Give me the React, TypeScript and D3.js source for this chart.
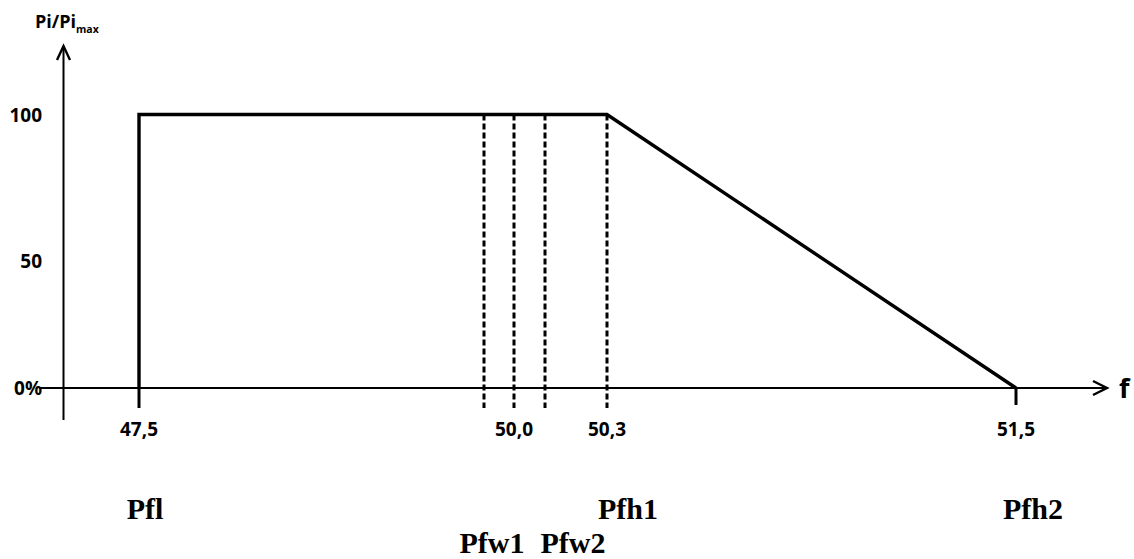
import React from "react";
import * as d3 from "d3";

// ---- data ----
const freqBreaks = [47.5, 50.0, 50.3, 51.5];
const freqTickLabels = ["47,5", "50,0", "50,3", "51,5"];
const powerTicks = [0, 50, 100];
const powerTickLabels = ["0%", "50", "100"];
const curveF = [47.5, 47.5, 50.3, 51.5];
const curveP = [0, 100, 100, 0];
const dashedF = [49.8, 50.0, 50.1, 50.3];
const pointNames = ["Pfl", "Pfw1", "Pfw2", "Pfh1", "Pfh2"];
const pointF = [47.5, 49.8, 50.1, 50.3, 51.5];

const W = 1134;
const H = 559;

export default function App() {
  // schematic (piecewise) scales
  const x = d3.scaleLinear().domain(freqBreaks).range([139, 514, 607, 1016]);
  const y = d3.scaleLinear().domain(powerTicks).range([388, 261, 114.5]);

  const axisY = y(0);
  const line = d3
    .line<number>()
    .x((_, i) => x(curveF[i]))
    .y((_, i) => y(curveP[i]));
  const curvePath = line(curveF) || "";

  const tickFont = "'Open Sans', Lato, sans-serif";
  const serif = "'Liberation Serif', 'Times New Roman', serif";

  // label placement tweaks (row & horizontal nudge)
  const nameRow = [0, 1, 1, 0, 0];
  const nameDx = [6, 8, 28, 21, 17];

  return (
    <svg
      width={W}
      height={H}
      viewBox={`0 0 ${W} ${H}`}
      style={{ position: "absolute", left: 0, top: 0, background: "#fff" }}
    >
      {/* y axis */}
      <line x1={63.5} x2={63.5} y1={420} y2={46} stroke="#000" strokeWidth={2} />
      <polyline
        points={`57,60 63.5,46 70,60`}
        fill="none"
        stroke="#000"
        strokeWidth={2.4}
        strokeLinejoin="miter"
      />
      {/* x axis */}
      <line x1={40} x2={1106} y1={axisY} y2={axisY} stroke="#000" strokeWidth={2} />
      <polyline
        points={`1093,${axisY - 7} 1107,${axisY} 1093,${axisY + 7}`}
        fill="none"
        stroke="#000"
        strokeWidth={2.4}
      />
      <text x={1119} y={axisY + 10} fontFamily={tickFont} fontWeight="bold" fontSize={27}>
        f
      </text>

      {/* y label */}
      <text x={35} y={28} fontFamily={tickFont} fontWeight="bold" fontSize={18}>
        Pi/Pi
        <tspan fontSize={10.5} dy={5}>
          max
        </tspan>
      </text>

      {/* y tick labels */}
      {powerTicks.map((v, i) => (
        <text
          key={"yt" + i}
          x={42}
          y={y(v)}
          textAnchor="end"
          dominantBaseline="central"
          fontFamily={tickFont}
          fontWeight="bold"
          fontSize={19}
        >
          {powerTickLabels[i]}
        </text>
      ))}

      {/* x ticks */}
      {[freqBreaks[0], freqBreaks[3]].map((v, i) => (
        <line
          key={"xt" + i}
          x1={x(v)}
          x2={x(v)}
          y1={axisY}
          y2={axisY + (i === 0 ? 20 : 17)}
          stroke="#000"
          strokeWidth={3}
        />
      ))}
      {freqBreaks.map((v, i) => (
        <text
          key={"xl" + i}
          x={x(v)}
          y={436}
          textAnchor="middle"
          fontFamily={tickFont}
          fontWeight="bold"
          fontSize={19}
        >
          {freqTickLabels[i]}
        </text>
      ))}

      {/* dashed lines */}
      {dashedF.map((v, i) => (
        <line
          key={"d" + i}
          x1={x(v)}
          x2={x(v)}
          y1={y(100)}
          y2={408}
          stroke="#000"
          strokeWidth={3}
          strokeDasharray="6,3"
        />
      ))}

      {/* curve */}
      <path d={curvePath} fill="none" stroke="#000" strokeWidth={3.4} strokeLinejoin="miter" />

      {/* point names */}
      {pointNames.map((n, i) => (
        <text
          key={"n" + i}
          x={x(pointF[i]) + nameDx[i]}
          y={nameRow[i] === 0 ? 519 : 553}
          textAnchor="middle"
          fontFamily={serif}
          fontWeight="bold"
          fontSize={30}
        >
          {n}
        </text>
      ))}
    </svg>
  );
}
